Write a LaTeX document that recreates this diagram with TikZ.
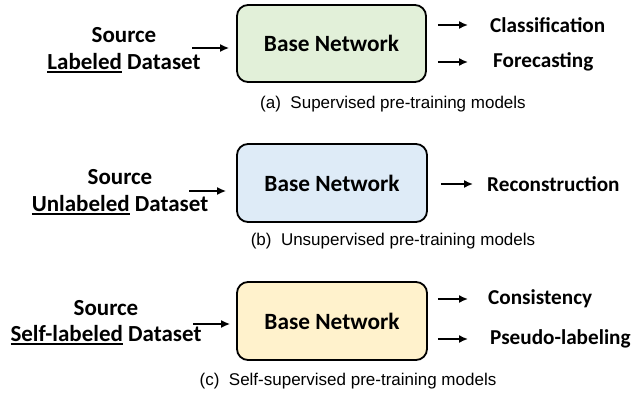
\documentclass[tikz,border=0pt]{standalone}
\usepackage{fontspec}
\setmainfont{Carlito}
\newfontfamily\capfont{Liberation Sans}
\usetikzlibrary{arrows.meta}
\definecolor{boxgreen}{HTML}{E2F0D9}
\definecolor{boxblue}{HTML}{DEEBF7}
\definecolor{boxyellow}{HTML}{FFF2CC}
\newcommand\ulword[1]{\setbox0\hbox{#1}\rlap{\rule[-3.6pt]{\wd0}{1.7pt}}\box0\relax}
\tikzset{
  basebox/.style={draw=black, line width=1.8pt, rounded corners=11pt, minimum width=189pt, minimum height=77pt, font=\fontsize{23.3}{26}\selectfont\bfseries, inner sep=0pt},
  lbl/.style={font=\fontsize{23}{26}\selectfont\bfseries, inner sep=0pt, anchor=center},
  outlbl/.style={font=\fontsize{21.2}{24}\selectfont\bfseries, inner sep=0pt, anchor=west},
  caplbl/.style={font=\capfont\fontsize{17}{20}\selectfont, inner sep=0pt},
  arr/.style={line width=1.6pt, -{Latex[length=9pt,width=8pt]}}
}
\begin{document}
\begin{tikzpicture}[x=1pt,y=-1pt]
\useasboundingbox (0,0) rectangle (634,401);
% panel a
\node[basebox, fill=boxgreen] (boxa) at (331.5,43.5) {Base Network};
\node[lbl] (srca) at (124,35) {Source};
\node[lbl] (dsa) at (124,63) {\ulword{Labeled} Dataset};
\coordinate (ina) at (192,48);
\draw[arr, shorten >=7pt] (ina) -- (ina -| boxa.west);
\node[outlbl] (cls) at (490,25) {Classification};
\node[outlbl] (fc) at (493,62) {Forecasting};
\draw[arr, shorten <=11pt, shorten >=22pt] (boxa.east |- cls.west) -- (cls.west);
\draw[arr, shorten <=11pt, shorten >=25pt] (boxa.east |- fc.west) -- (fc.west);
\node[caplbl] (capa) at (393,104) {(a)\ \ Supervised pre-training models};
% panel b
\node[basebox, fill=boxblue, minimum width=190pt, minimum height=78pt] (boxb) at (332,183) {Base Network};
\node[lbl] (srcb) at (120,177) {Source};
\node[lbl] (dsb) at (120,205) {\ulword{Unlabeled} Dataset};
\coordinate (inb) at (189,191);
\draw[arr, shorten >=10pt] (inb) -- (inb -| boxb.west);
\node[outlbl] (rec) at (487,184) {Reconstruction};
\draw[arr, shorten <=13pt, shorten >=14pt] (boxb.east |- rec.west) -- (rec.west);
\node[caplbl] (capb) at (393,241) {(b)\ \ Unsupervised pre-training models};
% panel c
\node[basebox, fill=boxyellow, minimum width=190pt, minimum height=78pt] (boxc) at (332,321) {Base Network};
\node[lbl] (srcc) at (106,308) {Source};
\node[lbl] (dsc) at (106,335) {\ulword{Self-labeled} Dataset};
\coordinate (inc) at (193,324);
\draw[arr, shorten >=6pt] (inc) -- (inc -| boxc.west);
\node[outlbl] (con) at (488,299) {Consistency};
\node[outlbl] (psl) at (490,339) {Pseudo-labeling};
\draw[arr, shorten <=10pt, shorten >=20pt] (boxc.east |- con.west) -- (con.west);
\draw[arr, shorten <=10pt, shorten >=22pt] (boxc.east |- psl.west) -- (psl.west);
\node[caplbl] (capc) at (348,381) {(c)\ \ Self-supervised pre-training models};
\end{tikzpicture}
\end{document}
